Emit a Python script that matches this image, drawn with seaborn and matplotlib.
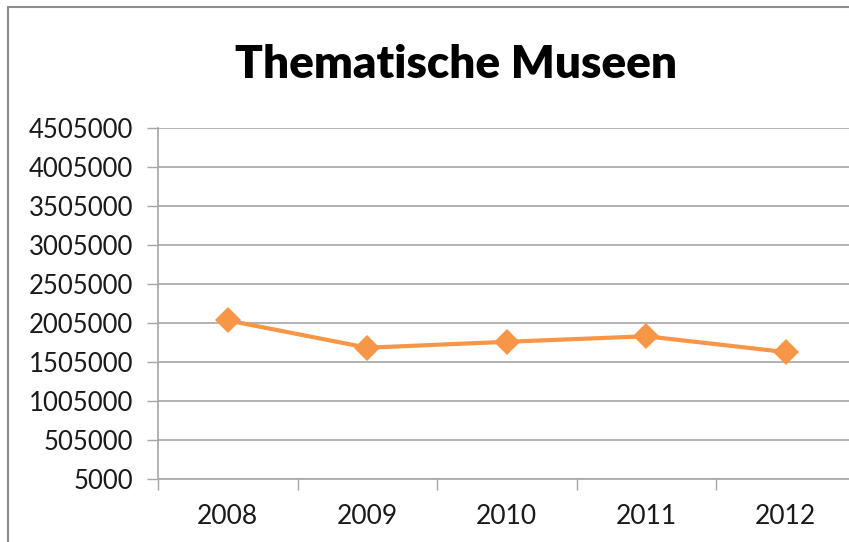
import numpy as np
import pandas as pd
import matplotlib
matplotlib.use("Agg")
import matplotlib.pyplot as plt
from matplotlib.lines import Line2D
import seaborn as sns

# Daten
jahre = ['2008', '2009', '2010', '2011', '2012']
besucher = [2038000, 1688000, 1764000, 1835000, 1632000]
y_ticks = [5000, 505000, 1005000, 1505000, 2005000, 2505000,
           3005000, 3505000, 4005000, 4505000]
titel = 'Thematische Museen'

df = pd.DataFrame({'jahr': jahre, 'besucher': besucher})
df['pos'] = np.arange(len(df))

sns.set_theme(style="white")
plt.rcParams['font.family'] = ['Lato', 'DejaVu Sans']

W, H = 849, 542
fig = plt.figure(figsize=(W / 100, H / 100), dpi=100)
ax = fig.add_axes([158 / W, (H - 479) / H, 697.5 / W, 351 / H])

sns.lineplot(data=df, x='pos', y='besucher', ax=ax, color='#F79646',
             linewidth=3, marker='D', markersize=13, markeredgewidth=0)

ax.set_xlim(-0.5, len(jahre) - 0.5)
ax.set_ylim(y_ticks[0], y_ticks[-1])
ax.set_yticks(y_ticks)
ax.set_yticklabels([str(v) for v in y_ticks], fontsize=18.5, color='#1a1a1a')
ax.yaxis.grid(True, color='#A6A6A6', linewidth=1.2)
ax.set_axisbelow(True)

# Kategorie-Ticks zwischen den Jahren, Beschriftung mittig
ax.set_xticks(np.arange(len(jahre) + 1) - 0.5)
ax.set_xticklabels([])
ax.set_xticks(df['pos'], minor=True)
ax.set_xticklabels(jahre, minor=True, fontsize=19, color='#1a1a1a')
ax.tick_params(axis='x', which='major', length=8, color='#A6A6A6', width=1, direction='out', bottom=True)
ax.tick_params(axis='x', which='minor', length=0, pad=18)
ax.tick_params(axis='y', length=8, color='#A6A6A6', width=1, direction='out', left=True, pad=10)

for s in ['top', 'right']:
    ax.spines[s].set_visible(False)
for s in ['left', 'bottom']:
    ax.spines[s].set_color('#A6A6A6')
    ax.spines[s].set_linewidth(1.2)

ax.set_xlabel('')
ax.set_ylabel('')

fig.text(456 / W, 1 - 64 / H, titel, ha='center', va='center',
         fontsize=33, fontweight='heavy', color='black')

# Rahmen des Diagramms (oben und links sichtbar)
fig.add_artist(Line2D([8 / W, 1], [1 - 7 / H, 1 - 7 / H], color='#8C8C8C', linewidth=1.5))
fig.add_artist(Line2D([8 / W, 8 / W], [0, 1 - 7 / H], color='#8C8C8C', linewidth=1.5))

fig.savefig('out.png', dpi=100)
